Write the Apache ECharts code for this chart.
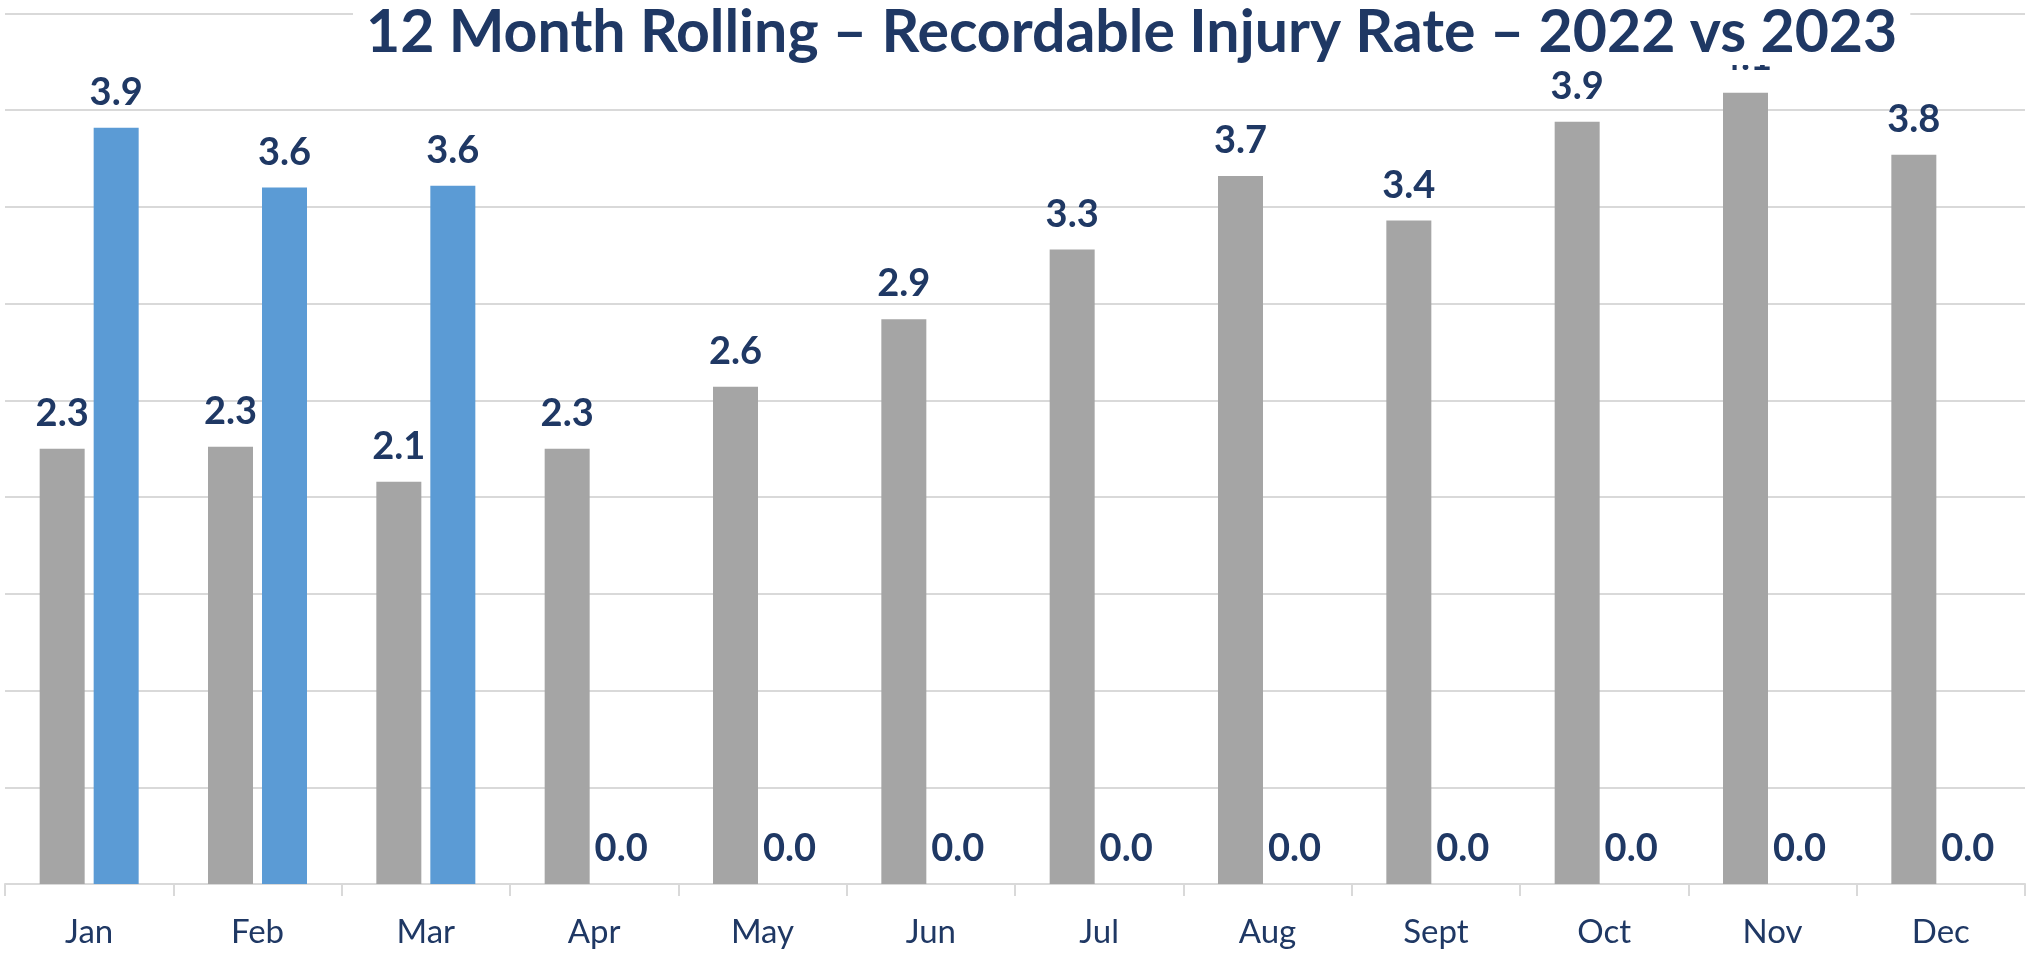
<!DOCTYPE html>
<html>
<head>
<meta charset="utf-8">
<script src="https://cdn.jsdelivr.net/npm/echarts@6/dist/echarts.min.js"></script>
<style>
  html, body { margin: 0; padding: 0; background: #ffffff; }
  #chart { width: 2026px; height: 954px; }
</style>
</head>
<body>
<div id="chart"></div>
<script>
const titleText = '12 Month Rolling \u2013 Recordable Injury Rate \u2013 2022 vs 2023';
const months = ['Jan', 'Feb', 'Mar', 'Apr', 'May', 'Jun', 'Jul', 'Aug', 'Sept', 'Oct', 'Nov', 'Dec'];
const rate2022 = [2.25, 2.26, 2.08, 2.25, 2.57, 2.92, 3.28, 3.66, 3.43, 3.94, 4.09, 3.77];
const rate2023 = [3.91, 3.60, 3.61, 0, 0, 0, 0, 0, 0, 0, 0, 0];

const navy = '#1F3864';
const chart = echarts.init(document.getElementById('chart'));

const labelCfg = {
  show: true,
  position: 'top',
  distance: 16,
  color: navy,
  fontFamily: 'Lato',
  fontWeight: 'bold',
  fontSize: 38,
  formatter: p => Number(p.value).toFixed(1)
};

chart.setOption({
  animation: false,
  backgroundColor: '#ffffff',
  title: {
    text: titleText,
    left: 353,
    top: 0,
    padding: [3, 13, 2, 13],
    backgroundColor: '#ffffff',
    z: 10,
    textStyle: {
      color: navy,
      fontFamily: 'Lato',
      fontWeight: 'bold',
      fontSize: 59,
      lineHeight: 60
    }
  },
  grid: { left: 5, right: 1, top: 13.5, bottom: 70 },
  xAxis: {
    type: 'category',
    data: months,
    axisLine: { show: true, lineStyle: { color: '#D9D9D9', width: 2 } },
    axisTick: { show: true, length: 12, lineStyle: { color: '#D9D9D9', width: 2 } },
    axisLabel: {
      color: navy,
      fontFamily: 'Lato',
      fontSize: 33,
      margin: 32
    }
  },
  yAxis: {
    type: 'value',
    min: 0,
    max: 4.5,
    interval: 0.5,
    axisLine: { show: false },
    axisTick: { show: false },
    axisLabel: { show: false },
    splitLine: { show: true, lineStyle: { color: '#D9D9D9', width: 2 } }
  },
  series: [
    {
      name: '2022',
      type: 'bar',
      data: rate2022,
      barWidth: 45,
      barGap: '20%',
      itemStyle: { color: '#A5A5A5' },
      label: labelCfg
    },
    {
      name: '2023',
      type: 'bar',
      data: rate2023,
      barWidth: 45,
      barGap: '20%',
      itemStyle: { color: '#5B9BD5' },
      label: labelCfg
    }
  ]
});
</script>
</body>
</html>
